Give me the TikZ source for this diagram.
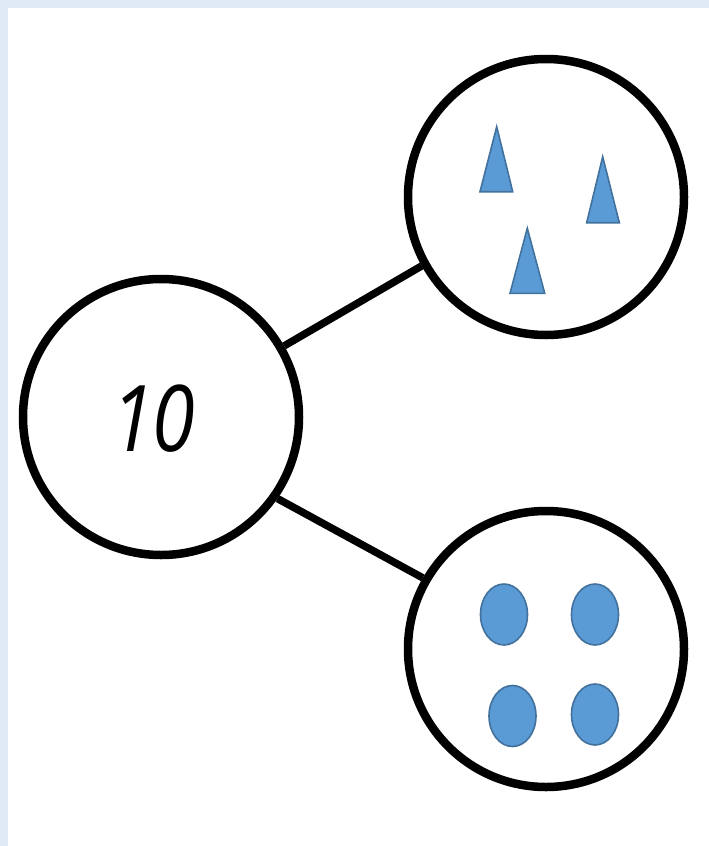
\documentclass[tikz,border=0pt]{standalone}
\usepackage{fontspec}
\usetikzlibrary{shapes.geometric}
\newfontfamily\numfont{Open Sans}
\definecolor{bgblue}{RGB}{222,233,245}
\definecolor{shapefill}{RGB}{91,155,213}
\definecolor{shapeedge}{RGB}{65,113,156}
\begin{document}
\begin{tikzpicture}[x=1pt,y=-1pt,
  bigcirc/.style={circle,draw=black,line width=8.5pt,fill=white,minimum size=276pt,inner sep=0pt},
  link/.style={draw=black,line width=7.5pt},
  tri/.style={fill=shapefill,draw=shapeedge,line width=1.6pt,line join=miter},
  blob/.style={ellipse,fill=shapefill,draw=shapeedge,line width=1.6pt,minimum width=47pt,minimum height=61pt,inner sep=0pt}]
\useasboundingbox (0,0) rectangle (709,846);
\fill[bgblue] (0,0) rectangle (709,846);
\fill[white] (8,8) rectangle (709,846);
\node[bigcirc] (whole) at (161,417) {};
\node[bigcirc] (top) at (546,197) {};
\node[bigcirc] (bot) at (546,649) {};
\node[font=\numfont\itshape\fontsize{92}{92}\selectfont,xscale=0.84,inner sep=0pt] (num) at (153,419) {1\kern-2pt 0};
\draw[link] (whole.30) -- (top.209);
\draw[link] (whole.-35) -- (bot.150);
% triangles
\path[tri] (496.7,126.7) -- (512.7,191.7) -- (480,191.7) -- cycle;
\path[tri] (602.7,156.7) -- (619.3,222.7) -- (586.7,222.7) -- cycle;
\path[tri] (527.3,228.3) -- (544.7,293.3) -- (510,293.3) -- cycle;
% ellipses
\node[blob] (e1) at (504,614.5) {};
\node[blob] (e2) at (595,614.5) {};
\node[blob] (e3) at (512.5,716) {};
\node[blob] (e4) at (595,714.5) {};
\end{tikzpicture}
\end{document}
